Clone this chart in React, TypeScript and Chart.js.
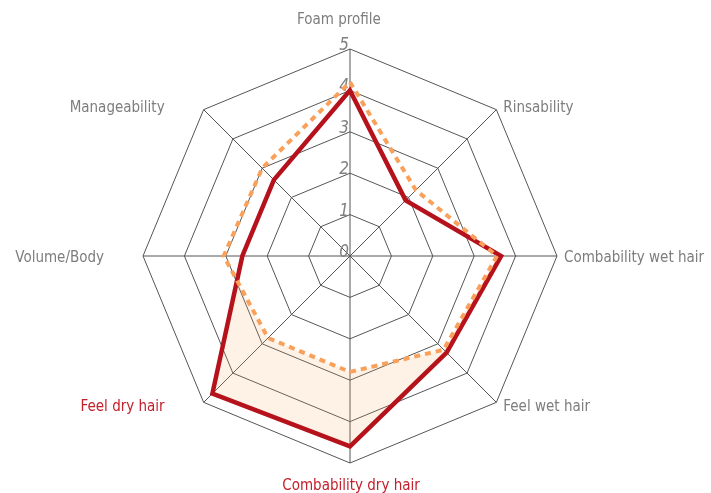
import { useEffect, useRef } from "react";
import { Chart, registerables } from "chart.js";

Chart.register(...registerables);

const categories = [
  "Foam profile",
  "Rinsability",
  "Combability wet hair",
  "Feel wet hair",
  "Combability dry hair",
  "Feel dry hair",
  "Volume/Body",
  "Manageability",
];
const productValues = [4.0, 1.9, 3.65, 3.3, 4.6, 4.7, 2.6, 2.6];
const referenceValues = [4.2, 2.25, 3.55, 3.2, 2.8, 2.8, 3.05, 3.0];
const tickValues = [0, 1, 2, 3, 4, 5];
const highlightedCategories = ["Feel dry hair", "Combability dry hair"];

const RED = "#b5121b";
const ORANGE = "#f9a05a";
const GREY_TEXT = "#7d7d7d";
const RED_TEXT = "#c3202c";
const GRID = "#555555";
const LABEL_FONT = "'DejaVu Sans Condensed', 'Liberation Sans Narrow', sans-serif";

const gainFill = {
  id: "gainFill",
  beforeDatasetsDraw(chart: any) {
    const red = chart.getDatasetMeta(0).data;
    const orange = chart.getDatasetMeta(1).data;
    const ctx = chart.ctx;
    if (red.length && orange.length) {
      ctx.save();
      ctx.beginPath();
      red.forEach((p: any, i: number) => (i ? ctx.lineTo(p.x, p.y) : ctx.moveTo(p.x, p.y)));
      ctx.closePath();
      ctx.clip();
      ctx.beginPath();
      ctx.rect(0, 0, chart.width, chart.height);
      orange.forEach((p: any, i: number) => (i ? ctx.lineTo(p.x, p.y) : ctx.moveTo(p.x, p.y)));
      ctx.closePath();
      ctx.fillStyle = "rgba(249,160,90,0.15)";
      ctx.fill("evenodd");
      ctx.restore();
    }

    const scale = chart.scales.r;
    ctx.save();
    ctx.font = `italic 17px ${LABEL_FONT}`;
    ctx.fillStyle = "#808080";
    ctx.textAlign = "right";
    ctx.textBaseline = "alphabetic";
    tickValues.forEach((v) => {
      const d = scale.getDistanceFromCenterForValue(v);
      ctx.fillText(String(v), scale.xCenter - 1, scale.yCenter - d + 1);
    });
    ctx.restore();
  },
  afterDraw(chart: any) {
    const scale = chart.scales.r;
    const ctx = chart.ctx;
    const R = scale.drawingArea;
    ctx.save();
    ctx.font = `15px ${LABEL_FONT}`;
    ctx.textBaseline = "alphabetic";
    categories.forEach((label, i) => {
      const p = scale.getPointPosition(i, R);
      const ux = (p.x - scale.xCenter) / R;
      const uy = (p.y - scale.yCenter) / R;
      let x: number;
      let y: number;
      if (Math.abs(ux) < 0.01) {
        ctx.textAlign = "center";
        x = p.x + (uy < 0 ? -11 : 1);
        y = uy < 0 ? p.y - 25 : p.y + 26.5;
      } else {
        ctx.textAlign = ux > 0 ? "left" : "right";
        x = p.x + (ux > 0 ? 7 : -39);
        y = p.y + 5.5 + uy * 5;
      }
      ctx.fillStyle = highlightedCategories.includes(label) ? RED_TEXT : GREY_TEXT;
      ctx.fillText(label, x, y);
    });
    ctx.restore();
  },
};

export default function App() {
  const ref = useRef<HTMLCanvasElement | null>(null);
  useEffect(() => {
    if (!ref.current) return;
    const chart = new Chart(ref.current, {
      type: "radar",
      data: {
        labels: categories,
        datasets: [
          {
            label: "Product",
            data: productValues,
            borderColor: RED,
            borderWidth: 4.5,
            backgroundColor: "transparent",
            fill: false,
            pointRadius: 0,
            pointHoverRadius: 0,
            tension: 0,
            borderJoinStyle: "miter",
            order: 1,
          },
          {
            label: "Reference",
            data: referenceValues,
            borderColor: ORANGE,
            borderWidth: 4,
            borderDash: [6, 5],
            backgroundColor: "transparent",
            fill: false,
            pointRadius: 0,
            pointHoverRadius: 0,
            tension: 0,
            borderJoinStyle: "miter",
            order: 0,
          },
        ],
      },
      options: {
        animation: false,
        responsive: true,
        maintainAspectRatio: false,
        layout: { padding: { top: 49, bottom: 30, left: 0, right: 11 } },
        plugins: {
          legend: { display: false },
          tooltip: { enabled: false },
        },
        scales: {
          r: {
            min: 0,
            max: 5,
            ticks: { stepSize: 1, display: false },
            grid: { color: GRID, lineWidth: 1 },
            angleLines: { color: GRID, lineWidth: 1 },
            pointLabels: { display: false },
          },
        },
      },
      plugins: [gainFill],
    });
    return () => chart.destroy();
  }, []);
  return (
    <div style={{ position: "absolute", left: 0, top: 0, width: 711, height: 493 }}>
      <canvas ref={ref} />
    </div>
  );
}
